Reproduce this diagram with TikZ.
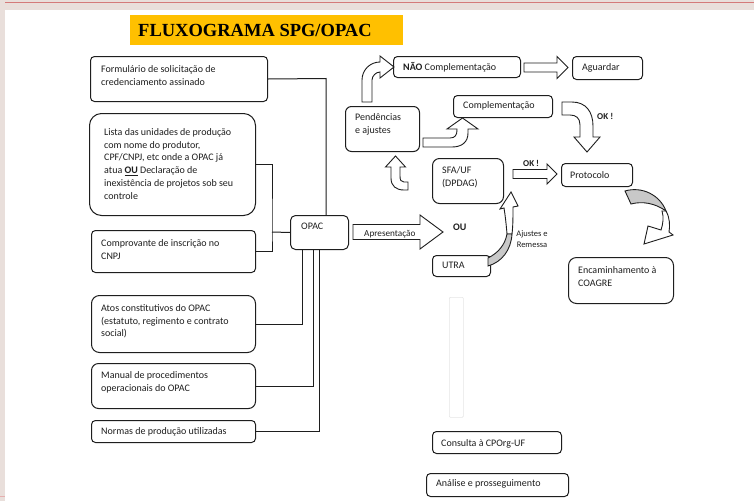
\documentclass[tikz,border=0pt]{standalone}
\usepackage{fontspec}
\setmainfont{Carlito}
\newfontfamily\titlefont{Liberation Serif}
\usetikzlibrary{calc}
\newcommand\mlines[1]{\begin{tabular}[t]{@{}l@{}}#1\end{tabular}}
\newcommand\clines[1]{\begin{tabular}[t]{@{}c@{}}#1\end{tabular}}
\definecolor{pinkbg}{HTML}{E9DFDB}
\definecolor{pinkline}{HTML}{D47A7A}
\definecolor{titley}{HTML}{FFC000}
\definecolor{shade}{HTML}{C8C8C8}
\definecolor{ink}{HTML}{1E1E1E}
\begin{document}
\begin{tikzpicture}[x=1pt,y=-1pt,
  box/.style={draw=ink, line width=1pt, rounded corners=4pt, inner sep=0pt, anchor=north west, fill=white},
  txt/.style={anchor=base west, inner sep=0pt, font=\fontsize{10}{12.5}\selectfont, text=ink},
  conn/.style={draw=ink, line width=1pt},
  blk/.style={draw=ink, line width=0.9pt, fill=white, line join=miter},
  gblk/.style={draw=ink, line width=0.9pt, fill=shade}]
\useasboundingbox (0,0) rectangle (754,501);
\fill[pinkbg] (0,0) rectangle (754,501);
\fill[white] (5,10) rectangle (754,501);
\draw[pinkline, line width=1.5pt] (5,2.5) -- (754,2.5);
\draw[pinkline!60, line width=0.8pt] (0,496) -- (5,496);
% title
\node[fill=titley, anchor=north west, minimum width=273pt, minimum height=30pt, inner sep=0pt] (title) at (130,15) {};
\node[anchor=base west, inner sep=0pt, font=\titlefont\bfseries\fontsize{18.5}{20}\selectfont] (titletxt) at (138,36.5) {FLUXOGRAMA SPG/OPAC};
% left boxes
\node[box, minimum width=177pt, minimum height=45pt] (b1) at (90,56) {};
\node[box, rounded corners=12pt, minimum width=166pt, minimum height=102pt] (b2) at (89,113) {};
\node[box, minimum width=164pt, minimum height=42pt] (b3) at (91,230) {};
\node[box, rounded corners=8pt, minimum width=164pt, minimum height=57pt] (b4) at (91,295) {};
\node[box, rounded corners=7pt, minimum width=164pt, minimum height=45pt] (b5) at (91,363) {};
\node[box, minimum width=164pt, minimum height=22pt] (b6) at (91,420) {};
\node[txt] (t1) at (101,72.5) {\mlines{Formulário de solicitação de\\credenciamento assinado}};
\node[txt, font=\fontsize{10}{12.7}\selectfont] (t2) at (104,135.5) {\mlines{Lista das unidades de produção\\com nome do produtor,\\CPF/CNPJ, etc onde a OPAC já\\atua \textbf{\underline{OU}} Declaração de\\inexistência de projetos sob seu\\controle}};
\node[txt] (t3) at (101,246.5) {\mlines{Comprovante de inscrição no\\CNPJ}};
\node[txt] (t4) at (101,311.5) {\mlines{Atos constitutivos do OPAC\\(estatuto, regimento e contrato\\social)}};
\node[txt] (t5) at (101,378.5) {\mlines{Manual de procedimentos\\operacionais do OPAC}};
\node[txt] (t6) at (101,434.5) {Normas de produção utilizadas};
% OPAC
\node[box, rounded corners=5pt, minimum width=58pt, minimum height=34pt] (opac) at (290,215) {};
\node[txt] (topac) at (301,229.5) {OPAC};
% connectors
\coordinate (j1) at (326,78.5);
\coordinate (j2) at (272,232);
\draw[conn] (b1.east) -- (j1) -- (j1 |- opac.north);
\draw[conn] (b2.east) -| (j2) |- (b3.east);
\draw[conn] (j2) -- (opac.west);
\draw[conn] ([xshift=-17pt]opac.south) |- (b4.east);
\draw[conn] ([xshift=-6pt]opac.south) |- (b5.east);
\draw[conn] (opac.south) |- (b6.east);
% right boxes
\node[box, rounded corners=6pt, minimum width=74pt, minimum height=45pt] (pend) at (345,106) {};
\node[box, minimum width=127pt, minimum height=21pt] (nao) at (393,56) {};
\node[box, minimum width=70pt, minimum height=23pt] (agu) at (572,56) {};
\node[box, minimum width=99pt, minimum height=22pt] (comp) at (453,95) {};
\node[box, rounded corners=7pt, minimum width=71pt, minimum height=45pt] (sfa) at (432,158) {};
\node[box, minimum width=71pt, minimum height=23pt] (prot) at (561,163) {};
\node[box, minimum width=58pt, minimum height=21pt] (utra) at (432,255) {};
\node[box, rounded corners=8pt, minimum width=105pt, minimum height=46pt] (enc) at (568,257) {};
\node[box, minimum width=129pt, minimum height=22pt] (cons) at (432,431) {};
\node[box, minimum width=142pt, minimum height=23pt] (anal) at (426,473) {};
\node[draw=black!10, line width=0.6pt, rounded corners=1pt, anchor=north west, inner sep=0pt, minimum width=14pt, minimum height=120pt] (faint) at (449,297) {};
\node[txt] (tpend) at (355,120.5) {\mlines{Pendências\\e ajustes}};
\node[txt] (tnao) at (403,70.5) {\textbf{NÃO} Complementação};
\node[txt] (tagu) at (582,70.5) {Aguardar};
\node[txt] (tcomp) at (463,108.5) {Complementação};
\node[txt] (tsfa) at (442,173.5) {\mlines{SFA/UF\\(DPDAG)}};
\node[txt] (tprot) at (570,178) {Protocolo};
\node[txt] (tutra) at (442,268.5) {UTRA};
\node[txt] (tenc) at (578,273.5) {\mlines{Encaminhamento à\\COAGRE}};
\node[txt] (tcons) at (441,446.5) {Consulta à CPOrg-UF};
\node[txt] (tanal) at (436,486.5) {Análise e prosseguimento};
% block arrows
\draw[blk] (353,224.5) -- (420,224.5) -- (420,215) -- (443,232) -- (420,249) -- (420,239.5) -- (353,239.5) -- cycle;
\node[txt, font=\fontsize{9.2}{11}\selectfont] (tapr) at (364,236) {Apresentação};
\draw[blk] (524,63) -- (557,63) -- (557,56.5) -- (568,67.5) -- (557,78.5) -- (557,72) -- (524,72) -- cycle;
\draw[blk] (513,169.5) -- (547,169.5) -- (547,164) -- (557,174) -- (547,184) -- (547,178.5) -- (513,178.5) -- cycle;
\node[txt, font=\bfseries\fontsize{9}{11}\selectfont] (tok1) at (523,166.5) {OK !};
\node[txt, font=\bfseries\fontsize{10}{12}\selectfont] (tou) at (453,230.5) {OU};
% bent arrows
\draw[blk] (362,102) -- (362,80) .. controls (362,70) and (370,62) .. (380,62) -- (380,56) -- (394,67) -- (380,78) -- (380,72) .. controls (376,72) and (372,76) .. (372,80) -- (372,102) -- cycle;
\draw[blk] (408,182) -- (404,182) .. controls (401,182) and (400,180) .. (400,176) -- (400,167) -- (405.5,167) -- (395.5,156) -- (385.5,167) -- (391,167) -- (391,178) .. controls (391,186) and (396,190) .. (404,190) -- (408,190) -- cycle;
\draw[blk] (423,138) -- (450,138) .. controls (455,138) and (457,135) .. (457,130) -- (457,129) -- (447,129) -- (462.5,118) -- (478,129) -- (468,129) -- (468,133) .. controls (468,142) and (462,147) .. (452,147) -- (423,147) -- cycle;
\draw[blk] (562,102) -- (572,102) .. controls (586,102) and (593,112) .. (593,126) -- (593,137) -- (600,137) -- (587,152) -- (574,137) -- (580,137) -- (580,125) .. controls (580,118) and (576,115) .. (570,115) -- (562,115) -- cycle;
\node[txt, font=\bfseries\fontsize{9}{11}\selectfont] (tok2) at (597,119.5) {OK !};
% curved arrow UTRA -> SFA
\draw[blk] (507,234) .. controls (506,222) and (505,214) .. (504,208) -- (500,209) -- (511,192) -- (518,206) -- (513,207) .. controls (513,216) and (513,226) .. (512,234) -- cycle;
\draw[gblk] (488,266) .. controls (502,262) and (511,250) .. (512,234) -- (507,234) .. controls (505,245) and (498,253) .. (488,258) -- cycle;
\node[txt, font=\fontsize{8.5}{11}\selectfont, anchor=base] (taj) at (532,236) {\clines{Ajustes e\\Remessa}};
% curved arrow Protocolo -> Encaminhamento
\draw[blk] (666,211) .. controls (670,218) and (670,226) .. (669,232) -- (673,235) -- (644,244) -- (648,226) -- (661,230) .. controls (663,224) and (664,217) .. (662,211) -- cycle;
\draw[gblk] (625,191) .. controls (642,186) and (660,195) .. (666,211) .. controls (655,203) and (642,201) .. (631,204) -- cycle;
\end{tikzpicture}
\end{document}
